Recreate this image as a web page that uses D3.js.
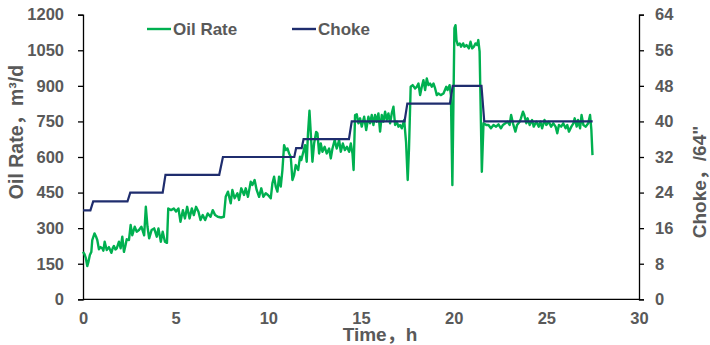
<!DOCTYPE html>
<html>
<head>
<meta charset="utf-8">
<script src="https://cdn.jsdelivr.net/npm/d3@7"></script>
<style>
  body { margin: 0; background: #fff; }
  text { font-family: "Liberation Sans", Arial, "Noto Sans CJK SC", sans-serif; font-weight: bold; fill: #595959; }
</style>
</head>
<body>
<svg id="chart" width="710" height="345"></svg>
<script>
// Data
const oilTime = [0, 0.08, 0.15, 0.23, 0.3, 0.37, 0.45, 0.5, 0.62, 0.7, 0.77, 0.86, 0.95, 1.04, 1.1, 1.17, 1.28, 1.4, 1.53, 1.6,
  1.67, 1.75, 1.82, 1.94, 2.03, 2.12, 2.21, 2.3, 2.36, 2.48, 2.57, 2.66, 2.79, 2.9, 3.02, 3.15, 3.3, 3.39, 3.48, 3.57,
  3.7, 3.84, 3.98, 4.07, 4.2, 4.3, 4.42, 4.53, 4.6, 4.75, 4.9, 5.02, 5.15, 5.26, 5.39, 5.5, 5.62, 5.75, 5.87, 5.98,
  6.1, 6.23, 6.34, 6.46, 6.59, 6.73, 6.88, 7.0, 7.13, 7.27, 7.45, 7.6, 7.7, 7.82, 7.97, 8.06, 8.18, 8.33, 8.42, 8.54,
  8.69, 8.78, 8.9, 9.05, 9.14, 9.26, 9.37, 9.5, 9.62, 9.73, 9.86, 9.98, 10.13, 10.22, 10.31, 10.4, 10.49, 10.58, 10.67, 10.76,
  10.85, 10.94, 11.03, 11.12, 11.21, 11.3, 11.39, 11.48, 11.61, 11.71, 11.78, 11.89, 11.98, 12.07, 12.14, 12.22, 12.29, 12.38, 12.47, 12.58,
  12.65, 12.74, 12.83, 12.92, 13.04, 13.15, 13.28, 13.37, 13.46, 13.58, 13.69, 13.82, 13.91, 14.02, 14.13, 14.24, 14.36, 14.45, 14.54, 14.6,
  14.68, 14.77, 14.86, 14.95, 15.04, 15.17, 15.28, 15.4, 15.49, 15.58, 15.67, 15.76, 15.85, 15.94, 16.03, 16.12, 16.21, 16.3, 16.39, 16.48,
  16.57, 16.66, 16.75, 16.84, 16.93, 17.02, 17.11, 17.2, 17.33, 17.43, 17.52, 17.59, 17.68, 17.79, 17.92, 18.01, 18.1, 18.19, 18.28, 18.37,
  18.46, 18.55, 18.64, 18.73, 18.82, 18.91, 19.0, 19.09, 19.18, 19.3, 19.45, 19.6, 19.67, 19.78, 19.85, 19.93, 20.04, 20.1, 20.15, 20.22,
  20.33, 20.4, 20.51, 20.58, 20.69, 20.82, 20.91, 21.0, 21.09, 21.18, 21.27, 21.33, 21.4, 21.52, 21.61, 21.76, 21.88, 22.01, 22.15, 22.29,
  22.42, 22.55, 22.66, 22.79, 22.91, 23.02, 23.1, 23.2, 23.33, 23.42, 23.56, 23.63, 23.74, 23.81, 23.92, 23.99, 24.1, 24.23, 24.32, 24.46,
  24.59, 24.68, 24.77, 24.9, 25.0, 25.13, 25.26, 25.37, 25.5, 25.59, 25.68, 25.8, 25.91, 26.04, 26.13, 26.22, 26.35, 26.46, 26.53, 26.64,
  26.71, 26.82, 26.9, 27.0, 27.13, 27.26, 27.36, 27.43, 27.49];
const oilRate = [200, 190, 175, 140, 160, 187, 200, 250, 278, 265, 250, 211, 220, 215, 205, 243, 208, 220, 196, 215,
  225, 210, 215, 243, 215, 264, 200, 230, 253, 250, 313, 270, 306, 285, 292, 306, 270, 390, 306, 257,
  292, 299, 264, 299, 243, 285, 243, 238, 383, 376, 383, 370, 383, 327, 376, 341, 390, 341, 383, 355,
  390, 369, 334, 355, 334, 362, 348, 376, 355, 348, 345, 348, 432, 454, 405, 461, 426, 447, 419, 468,
  440, 468, 432, 496, 482, 503, 461, 432, 468, 432, 447, 440, 426, 489, 517, 475, 454, 517, 475, 545,
  650, 629, 636, 615, 601, 503, 524, 566, 545, 601, 587, 622, 650, 580, 700, 795, 700, 580, 657, 706,
  700, 615, 657, 622, 643, 615, 636, 594, 636, 671, 636, 671, 622, 657, 629, 643, 622, 657, 615, 545,
  777, 780, 742, 763, 728, 770, 714, 770, 742, 777, 735, 777, 749, 784, 707, 777, 749, 791, 756, 784,
  742, 784, 812, 735, 749, 728, 735, 721, 756, 664, 503, 636, 896, 903, 889, 896, 910, 861, 896, 924,
  882, 931, 903, 910, 896, 910, 889, 861, 868, 861, 868, 896, 882, 903, 861, 482, 1143, 1156, 1093, 1072,
  1079, 1065, 1079, 1065, 1072, 1058, 1086, 1058, 1065, 1079, 1072, 1093, 1044, 538, 742, 735, 735, 721, 735, 728,
  738, 721, 735, 742, 749, 735, 777, 742, 707, 735, 749, 763, 791, 777, 742, 763, 735, 756, 728, 749,
  728, 749, 721, 756, 735, 749, 728, 742, 728, 700, 735, 728, 742, 721, 735, 707, 728, 742, 763, 728,
  756, 721, 777, 735, 728, 742, 777, 714, 608];

const chokeTime = [0, 0.4, 0.55, 2.4, 2.55, 4.3, 4.45, 7.35, 7.55, 11.4, 11.5, 11.8, 11.9, 14.35, 14.5, 17.35, 17.5, 19.8, 19.95, 21.5, 21.65, 27.5];
const chokeSize = [20, 20, 22, 22, 24, 24, 28, 28, 32, 32, 34, 34, 36, 36, 40, 40, 44, 44, 48, 48, 40, 40];

const xTicks = [0, 5, 10, 15, 20, 25, 30];
const rateTicks = [0, 150, 300, 450, 600, 750, 900, 1050, 1200];
const chokeTicks = [0, 8, 16, 24, 32, 40, 48, 56, 64];

const green = "#00b050";
const navy = "#1f2d6e";

const svg = d3.select("#chart");
const m = {left: 83, right: 639, top: 14.7, bottom: 299.3};

const x = d3.scaleLinear().domain([0, 30]).range([m.left, m.right]);
const yRate = d3.scaleLinear().domain([0, 1200]).range([m.bottom, m.top]);
const yChoke = d3.scaleLinear().domain([0, 64]).range([m.bottom, m.top]);

// axes
const fmt = d3.format("d");
const gx = svg.append("g")
    .attr("transform", `translate(0, ${m.bottom})`)
    .call(d3.axisBottom(x).tickValues(xTicks).tickFormat(fmt).tickSize(0).tickPadding(13));
const gl = svg.append("g")
    .attr("transform", `translate(${m.left}, 0)`)
    .call(d3.axisLeft(yRate).tickValues(rateTicks).tickFormat(fmt).tickSize(5).tickPadding(14));
const gr = svg.append("g")
    .attr("transform", `translate(${m.right}, 0)`)
    .call(d3.axisRight(yChoke).tickValues(chokeTicks).tickFormat(fmt).tickSize(5).tickPadding(11));

for (const g of [gx, gl, gr]) {
    g.selectAll(".domain").attr("stroke", "#000").attr("stroke-width", 1.3);
    g.selectAll(".tick line").attr("stroke", "#000").attr("stroke-width", 1.3);
    g.selectAll(".tick text").attr("fill", "#595959").attr("font-size", "16.5px")
        .attr("font-family", "'Liberation Sans', Arial, sans-serif").attr("font-weight", "bold");
}
gx.select(".domain").attr("d", `M${m.left},0H${m.right}`);

// lines
const oilData = oilTime.map((t, i) => [t, oilRate[i]]);
const chokeData = chokeTime.map((t, i) => [t, chokeSize[i]]);

svg.append("path")
    .datum(oilData)
    .attr("fill", "none")
    .attr("stroke", green)
    .attr("stroke-width", 2.4)
    .attr("stroke-linejoin", "round")
    .attr("d", d3.line().x(d => x(d[0])).y(d => yRate(d[1])));

svg.append("path")
    .datum(chokeData)
    .attr("fill", "none")
    .attr("stroke", navy)
    .attr("stroke-width", 2.2)
    .attr("d", d3.line().x(d => x(d[0])).y(d => yChoke(d[1])));

// axis titles
svg.append("text")
    .attr("transform", "translate(16, 132) rotate(-90)")
    .attr("text-anchor", "middle")
    .attr("dy", "0.35em")
    .attr("font-size", "19.5px")
    .text("Oil Rate，m³/d");

svg.append("text")
    .attr("transform", "translate(699, 182) rotate(-90)")
    .attr("text-anchor", "middle")
    .attr("dy", "0.35em")
    .attr("font-size", "19px")
    .text("Choke，/64\"");

svg.append("text")
    .attr("x", 380)
    .attr("y", 340.5)
    .attr("text-anchor", "middle")
    .attr("font-size", "19px")
    .text("Time，h");

// legend
const legend = [
    {name: "Oil Rate", color: green, x: 147},
    {name: "Choke", color: navy, x: 292},
];
const lg = svg.append("g").selectAll("g").data(legend).join("g")
    .attr("transform", d => `translate(${d.x}, 29)`);
lg.append("line")
    .attr("x1", 0).attr("x2", 24)
    .attr("stroke", d => d.color)
    .attr("stroke-width", 2.4);
lg.append("text")
    .attr("x", 26)
    .attr("dy", "0.35em")
    .attr("font-size", "17px")
    .text(d => d.name);
</script>
</body>
</html>
